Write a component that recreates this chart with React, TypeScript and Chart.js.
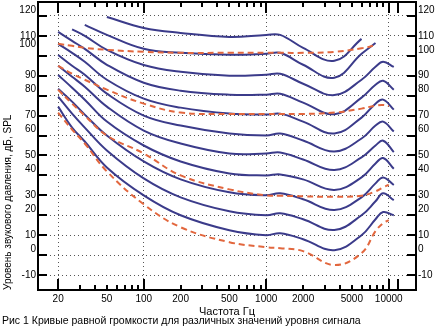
import React, { useEffect, useRef } from 'react';
import { Chart, registerables } from 'chart.js';
Chart.register(...registerables);

// Frequencies (Hz) at which the curves are sampled
const FREQS = [20, 26, 33, 50, 100, 200, 500, 1000, 1300, 2000, 3600, 6000, 7800, 9000, 10000, 11000];
const _ = null;

// Blue equal-loudness contours (dB SPL), labelled by level at 1 kHz
const B110 = [_, _, _, 119.5, 114, 111.5, 109.5, 110.5, 110.5, 104, 97.5, 108.5, _, _, _, _];
const B100 = [_, _, 115.5, 110.5, 103.5, 101.5, 100.5, 101, 101.5, 95.5, 89, 101, 106.4, _, _, _];
const B90 = [_, 113.3, 110, 103, 95.4, 92, 90, 90.5, 91, 86, 80.3, 88, 94.5, 97, _, 94.4];
const B80 = [112, 107.5, 103.5, 95.5, 86.5, 82.5, 80.5, 80.5, 81, 76.5, 70.7, 79, 85.5, 87.5, _, 83];
const B70 = [106, 101.5, 97, 88, 78.5, 74, 71, 70.5, 71, 67, 61, 69, 76, 78, _, 73];
const B60 = [100.4, 95, 90.5, 81, 70, 65, 61, 60, 61, 57.5, 52, 58.5, 65, 67, _, 62];
const B50 = [95, 89.5, 84.5, 74.5, 62.5, 56, 51, 51, 51.5, 48, 42.7, 49, 55, 57.4, _, 51.7];
const B40 = [90.4, 84, 78, 67, 55, 47, 41, 40, 40.5, 38, 32.7, 39, 46, 48.7, _, 43.3];
const B30 = [83.5, 77, 70.5, 60, 47, 38, 31.5, 30, 31, 28, 22.6, 29, 36, 39, _, 35.2];
const B20 = [79.5, 71, 64, 52.5, 38.5, 29, 22, 20, 21, 18, 12.6, 20, 27, 31, _, 27.6];
const B10 = [74.5, 64, 57, 44, 30, 20, 12.5, 10, 11, 8, 2.5, 10, 18, 21.6, _, 20];

// Red dashed contours (dB SPL)
const R100 = [106, 105, 104, 103, 102, 101.5, 101.5, 101.5, 101.5, 101.5, 102, 103.8, 105.3, _, _, _];
const R70 = [95, 91, 88, 83, 76, 71.5, 70.8, 70.8, 70.8, 70.8, 71.5, 73.5, 75, 75.3, 74.8, _];
const R30 = [83, 76, 70, 60, 51, 40, 33, 30, 29.8, 29.5, 29.3, 29.8, 32, 34, 35.3, _];
const R0 = [71.5, 63, 56, 42, 25.5, 14, 6.5, 4, 3.5, 2, -5, 1, 12, 16, 17.5, _];

const BLUE_CURVES = [B110, B100, B90, B80, B70, B60, B50, B40, B30, B20, B10];
const RED_CURVES = [R100, R70, R30, R0];

// Axes
const Y_TICKS = [-10, 0, 10, 20, 30, 40, 50, 60, 70, 80, 90, 100, 110, 120];
const X_TICKS = [20, 30, 40, 50, 60, 70, 80, 90, 100, 200, 300, 400, 500, 600, 700, 800, 900,
  1000, 2000, 3000, 4000, 5000, 6000, 7000, 8000, 9000, 10000, 12000];
const X_LABELS = [20, 50, 100, 200, 500, 1000, 2000, 5000, 10000];
const X_GRID = [20, 100, 1000, 10000];
const X_MAJOR = [20, 100, 1000, 10000, 12000];
const Y_RAISED_ONE = [120, 80, 60, 40, 20, 0];

const BLUE = '#3b3b8a';
const RED = '#e2673e';
const FONT = '"Liberation Sans", Arial, sans-serif';

const framePlugin = {
  id: 'frame',
  afterDatasetsDraw(chart: any) {
    const { ctx, chartArea, scales } = chart;
    const { left, right, top, bottom } = chartArea;
    const xs = scales.x;
    const ys = scales.y;
    ctx.save();
    ctx.strokeStyle = '#000';
    ctx.lineWidth = 2;
    for (const v of Y_TICKS) {
      const py = Math.round(ys.getPixelForValue(v));
      ctx.beginPath();
      ctx.moveTo(left, py);
      ctx.lineTo(left + 9, py);
      ctx.moveTo(right, py);
      ctx.lineTo(right - 9, py);
      ctx.stroke();
    }
    for (const f of X_TICKS) {
      const px = Math.round(xs.getPixelForValue(f));
      const len = X_MAJOR.includes(f) ? 11 : 5;
      ctx.beginPath();
      ctx.moveTo(px, bottom);
      ctx.lineTo(px, bottom - len);
      ctx.moveTo(px, top);
      ctx.lineTo(px, top + len);
      ctx.stroke();
    }
    ctx.strokeRect(left, top, right - left, bottom - top);
    ctx.restore();
  },
};

function toPoints(vals: (number | null)[]) {
  const pts: { x: number; y: number }[] = [];
  FREQS.forEach((f, i) => {
    const v = vals[i];
    if (v !== null && v !== undefined) pts.push({ x: f, y: v });
  });
  return pts;
}

function yLabel(v: number, side: 'left' | 'right') {
  const s = String(v);
  if (v === 100) return side === 'left' ? [s, '', ''] : [s, ''];
  if (Y_RAISED_ONE.includes(v)) return [s, ''];
  return s;
}

export default function App() {
  const ref = useRef<HTMLCanvasElement>(null);
  useEffect(() => {
    if (!ref.current) return;
    const datasets: any[] = [];
    RED_CURVES.forEach((c) =>
      datasets.push({
        data: toPoints(c),
        borderColor: RED,
        borderWidth: 2,
        borderDash: [6, 4],
        pointRadius: 0,
        tension: 0.4,
        fill: false,
      })
    );
    BLUE_CURVES.forEach((c) =>
      datasets.push({
        data: toPoints(c),
        borderColor: BLUE,
        borderWidth: 2,
        pointRadius: 0,
        tension: 0.4,
        fill: false,
      })
    );
    const yTicks = (side: 'left' | 'right') => ({
      padding: 2,
      autoSkip: false,
      color: '#000',
      font: { family: FONT, size: 10 },
      callback: (v: any) => yLabel(Number(v), side),
    });
    const chart = new Chart(ref.current, {
      type: 'line',
      data: { datasets },
      plugins: [framePlugin],
      options: {
        animation: false,
        responsive: false,
        devicePixelRatio: 1,
        spanGaps: true,
        layout: { padding: { top: 2, left: 0, right: 0, bottom: 0 } },
        plugins: { legend: { display: false }, tooltip: { enabled: false } },
        scales: {
          x: {
            type: 'logarithmic',
            min: 13.7,
            max: 16700,
            afterBuildTicks: (s: any) => {
              s.ticks = X_TICKS.map((v) => ({ value: v }));
            },
            afterFit: (s: any) => {
              s.height = 38;
              s.paddingLeft = 0;
              s.paddingRight = 0;
            },
            ticks: {
              autoSkip: false,
              maxRotation: 0,
              padding: 3,
              color: '#000',
              font: { family: FONT, size: 10 },
              callback: (v: any) => (X_LABELS.includes(Number(v)) ? String(v) : ''),
            },
            grid: {
              drawTicks: false,
              lineWidth: 1,
              color: (c: any) => (c.tick && X_GRID.includes(c.tick.value) ? '#555' : 'rgba(0,0,0,0)'),
            },
            border: { display: false, dash: [1, 3] },
            title: {
              display: true,
              text: 'Частота Гц',
              color: '#000',
              font: { family: FONT, size: 11 },
              padding: { top: 0, bottom: 9 },
            },
          },
          y: {
            type: 'linear',
            position: 'left',
            min: -17.5,
            max: 127,
            afterBuildTicks: (s: any) => {
              s.ticks = Y_TICKS.map((v) => ({ value: v }));
            },
            afterFit: (s: any) => {
              s.width = 38;
              s.paddingTop = 0;
              s.paddingBottom = 0;
            },
            ticks: yTicks('left'),
            grid: { drawTicks: false, lineWidth: 1, color: '#555' },
            border: { display: false, dash: [1, 3] },
            title: {
              display: true,
              text: 'Уровень звукового давления, дБ, SPL',
              align: 'start',
              color: '#000',
              font: { family: FONT, size: 10 },
              padding: { top: 2, bottom: 0 },
            },
          },
          y2: {
            type: 'linear',
            position: 'right',
            min: -17.5,
            max: 127,
            afterBuildTicks: (s: any) => {
              s.ticks = Y_TICKS.map((v) => ({ value: v }));
            },
            afterFit: (s: any) => {
              s.width = 23;
              s.paddingTop = 0;
              s.paddingBottom = 0;
            },
            ticks: yTicks('right'),
            grid: { display: false, drawTicks: false },
            border: { display: false },
          },
        },
      } as any,
    });
    return () => chart.destroy();
  }, []);

  return (
    <div style={{ position: 'fixed', left: 0, top: 0, width: 439, height: 328, background: '#fff' }}>
      <canvas ref={ref} width={439} height={328} style={{ display: 'block', width: 439, height: 328 }} />
      <div
        style={{
          position: 'absolute',
          left: 2,
          top: 314,
          font: `10.5px ${FONT}`,
          color: '#000',
          whiteSpace: 'nowrap',
        }}
      >
        Рис 1 Кривые равной громкости для различных значений уровня сигнала
      </div>
    </div>
  );
}
